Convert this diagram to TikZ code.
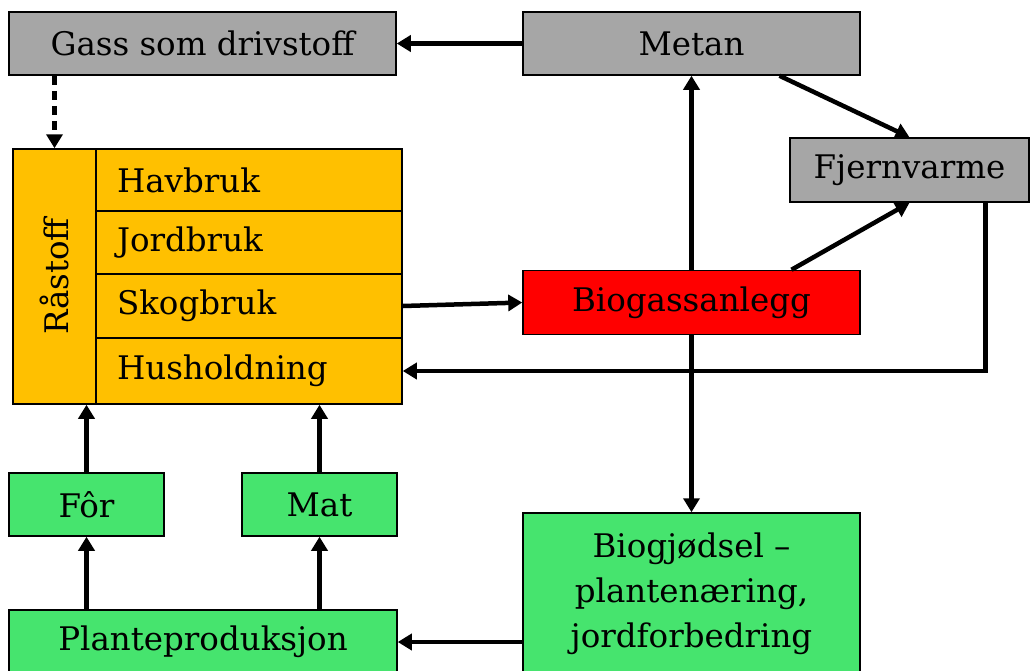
\documentclass[tikz,border=0pt]{standalone}
\usepackage{fontspec}
\setmainfont{DejaVu Serif}
\usetikzlibrary{arrows.meta}

\definecolor{boxgrey}{HTML}{A6A6A6}
\definecolor{boxorange}{HTML}{FFC000}
\definecolor{boxred}{HTML}{FF0000}
\definecolor{boxgreen}{HTML}{46E46E}

\begin{document}
\begin{tikzpicture}[x=1pt,y=-1pt]

        \useasboundingbox (0,0) rectangle (1031,670);

        \begin{scope}[every node/.style={rectangle,draw,line width=1.5pt,inner sep=0pt,font=\fontsize{32.5}{45}\selectfont}]
            % top row
            \node[fill=boxgrey,minimum width=387pt,minimum height=63pt] (gass) at (202.5,43.5) {Gass som drivstoff};
            \node[fill=boxgrey,minimum width=337pt,minimum height=63pt] (metan) at (691.5,43.5) {Metan};
            \node[fill=boxgrey,minimum width=239pt,minimum height=64pt] (fjern) at (909.5,170) {Fjernvarme};
            \node[fill=boxred,minimum width=337pt,minimum height=64pt] (biogass) at (691.5,302.5) {Biogassanlegg};

            % raastoff block
            \node[fill=boxorange,minimum width=83pt,minimum height=255pt] (rast) at (54.5,276.5) {};
            \node[rotate=90,draw=none] at (rast.center) {Råstoff};
            \node[fill=boxorange,text width=264pt,align=left,inner xsep=21pt,minimum height=62pt] (hav) at (249,180) {Havbruk};
            \node[fill=boxorange,text width=264pt,align=left,inner xsep=21pt,minimum height=63pt] (jord) at (249,242.5) {Jordbruk};
            \node[fill=boxorange,text width=264pt,align=left,inner xsep=21pt,minimum height=64pt] (skog) at (249,306) {Skogbruk};
            \node[fill=boxorange,text width=264pt,align=left,inner xsep=21pt,minimum height=66pt] (hush) at (249,371) {Husholdning};

            % bottom part
            \node[fill=boxgreen,minimum width=155pt,minimum height=63pt] (for) at (86.5,504.5) {Fôr};
            \node[fill=boxgreen,minimum width=155pt,minimum height=63pt] (mat) at (319.5,504.5) {Mat};
            \node[fill=boxgreen,minimum width=388pt,minimum height=64pt] (plante) at (203,642) {Planteproduksjon};
            \node[fill=boxgreen,minimum width=337pt,minimum height=161pt,align=center] (biogj) at (691.5,593.5) {Biogjødsel –\\plantenæring,\\jordforbedring};
        \end{scope}

        \begin{scope}[every edge/.style={draw,line width=4.5pt}, >={Triangle[length=14pt,width=16pt]}]
            \path [->] (metan) edge (gass);
            \path [->] (gass.south -| rast.north) edge [dash pattern=on 9pt off 6pt] (rast.north);

            \path [->] (biogass) edge (metan);
            \path [->] ([xshift=88pt]metan.south) edge (fjern.north);
            \path [->] ([xshift=100pt]biogass.north) edge (fjern.south);
            \path [->] (skog.east) edge (biogass.west);
            \path [->] (biogass) edge (biogj);

            \path [->] ([xshift=76pt]fjern.south) edge [to path={|- (\tikztotarget)}] (hush.east);

            \path [->] (biogj.west |- plante.east) edge (plante.east);
            \path [->] (plante.north -| for.south) edge (for.south);
            \path [->] (plante.north -| mat.south) edge (mat.south);
            \path [->] (for.north) edge (for.north |- hush.south);
            \path [->] (mat.north) edge (mat.north |- hush.south);
        \end{scope}

    \end{tikzpicture}
\end{document}
